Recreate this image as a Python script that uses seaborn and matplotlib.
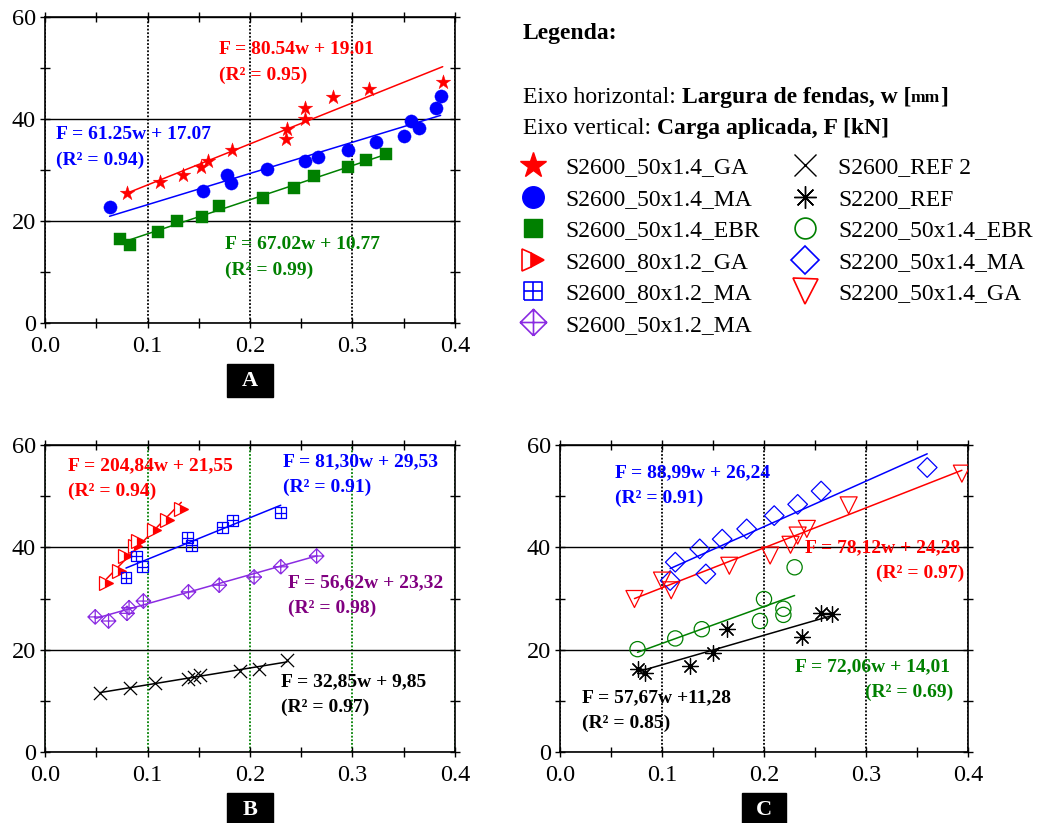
import numpy as np
import pandas as pd
import matplotlib
matplotlib.use("Agg")
import matplotlib.pyplot as plt
import seaborn as sns
from matplotlib.path import Path
from matplotlib.markers import MarkerStyle
from matplotlib.lines import Line2D
import matplotlib.patches as mpatches
import matplotlib.transforms as mtransforms
from matplotlib.ticker import MultipleLocator, FormatStrFormatter

# ------------------------------------------------------------------ data
# Panel A
A_GA_w = [0.080, 0.112, 0.135, 0.152, 0.159, 0.182, 0.235, 0.236, 0.254, 0.254, 0.281, 0.316, 0.388]
A_GA_F = [25.5, 27.6, 29.1, 30.5, 31.8, 33.9, 36.0, 38.0, 40.0, 42.1, 44.3, 45.9, 47.3]
A_MA_w = [0.063, 0.154, 0.178, 0.181, 0.217, 0.254, 0.266, 0.296, 0.323, 0.350, 0.357, 0.365, 0.381, 0.386]
A_MA_F = [22.8, 25.8, 29.1, 27.5, 30.2, 31.8, 32.6, 33.9, 35.5, 36.7, 39.7, 38.2, 42.2, 44.5]
A_EBR_w = [0.073, 0.083, 0.110, 0.129, 0.153, 0.170, 0.213, 0.243, 0.262, 0.296, 0.313, 0.333]
A_EBR_F = [16.4, 15.3, 17.8, 20.0, 20.8, 23.0, 24.6, 26.4, 28.8, 30.5, 32.0, 33.1]

# Panel B
B_GA80_w = [0.060, 0.072, 0.078, 0.088, 0.091, 0.106, 0.119, 0.133]
B_GA80_F = [33.0, 35.3, 38.4, 40.2, 41.2, 43.3, 45.4, 47.5]
B_MA80_w = [0.079, 0.089, 0.095, 0.139, 0.143, 0.173, 0.183, 0.230]
B_MA80_F = [34.1, 38.3, 36.2, 41.9, 40.4, 43.9, 45.3, 46.8]
B_MA12_w = [0.049, 0.062, 0.080, 0.082, 0.096, 0.140, 0.170, 0.204, 0.230, 0.265]
B_MA12_F = [26.4, 25.6, 27.1, 28.2, 29.5, 31.3, 32.6, 34.2, 36.2, 38.3]
B_REF2_w = [0.054, 0.083, 0.107, 0.140, 0.145, 0.151, 0.190, 0.209, 0.236]
B_REF2_F = [11.5, 12.6, 13.5, 14.3, 14.7, 15.1, 15.9, 16.2, 17.9]

# Panel C
C_MA_w = [0.108, 0.113, 0.137, 0.143, 0.159, 0.183, 0.210, 0.233, 0.256, 0.360]
C_MA_F = [33.5, 37.1, 39.7, 34.8, 41.6, 43.6, 46.2, 48.4, 51.0, 55.6]
C_GA_w = [0.073, 0.100, 0.109, 0.166, 0.206, 0.226, 0.233, 0.242, 0.283, 0.394]
C_GA_F = [29.9, 33.5, 31.6, 36.4, 38.4, 40.5, 42.3, 43.6, 48.2, 54.4]
C_EBR_w = [0.076, 0.113, 0.139, 0.196, 0.200, 0.219, 0.219, 0.230]
C_EBR_F = [20.1, 22.2, 24.0, 25.6, 29.9, 28.0, 26.8, 36.1]
C_REF_w = [0.076, 0.083, 0.127, 0.150, 0.164, 0.237, 0.256, 0.267]
C_REF_F = [16.3, 15.5, 16.9, 19.3, 24.0, 22.4, 27.1, 26.9]

# Fitted equations printed on the chart (slope, intercept, label text)
A_fit_slope = [80.54, 61.25, 67.02]
A_fit_icpt = [19.01, 17.07, 10.77]
A_fit_text = ["F = 80.54w + 19.01", "F = 61.25w + 17.07", "F = 67.02w + 10.77"]
A_r2_text = ["(R² = 0.95)", "(R² = 0.94)", "(R² = 0.99)"]

B_fit_slope = [204.84, 81.30, 56.62, 32.85]
B_fit_icpt = [21.55, 29.53, 23.32, 9.85]
B_fit_text = ["F = 204,84w + 21,55", "F = 81,30w + 29,53", "F = 56,62w + 23,32", "F = 32,85w + 9,85"]
B_r2_text = ["(R² = 0.94)", "(R² = 0.91)", "(R² = 0.98)", "(R² = 0.97)"]

C_fit_slope = [88.99, 78.12, 72.06, 57.67]
C_fit_icpt = [26.24, 24.28, 14.01, 11.28]
C_fit_text = ["F = 88,99w + 26,24", "F = 78,12w + 24,28", "F = 72,06w + 14,01", "F = 57,67w +11,28"]
C_r2_text = ["(R² = 0.91)", "(R² = 0.97)", "(R² = 0.69)", "(R² = 0.85)"]

legend_labels = ["S2600_50x1.4_GA", "S2600_50x1.4_MA", "S2600_50x1.4_EBR",
                 "S2600_80x1.2_GA", "S2600_80x1.2_MA", "S2600_50x1.2_MA",
                 "S2600_REF 2", "S2200_REF", "S2200_50x1.4_EBR",
                 "S2200_50x1.4_MA", "S2200_50x1.4_GA"]
x_ticks = [0.0, 0.1, 0.2, 0.3, 0.4]
y_ticks = [0, 20, 40, 60]
panel_letters = ["A", "B", "C"]

# ------------------------------------------------------------------ style
sns.set_theme(style="white", rc={
    "axes.edgecolor": "black", "xtick.color": "black", "ytick.color": "black",
    "text.color": "black", "axes.labelcolor": "black", "axes.linewidth": 1.2,
})
plt.rcParams['font.family'] = ['Liberation Serif', 'DejaVu Serif']

RED, BLUE, GREEN = "#ff0000", "#0000ff", "#008000"
VIOLET, PURPLE = "#8a2be2", "#800080"

MV, LT = Path.MOVETO, Path.LINETO
SQ_PLUS = Path([(-1, -1), (1, -1), (1, 1), (-1, 1), (-1, -1), (-1, 0), (1, 0), (0, -1), (0, 1)],
               [MV, LT, LT, LT, LT, MV, LT, MV, LT])
DIA_PLUS = Path([(0, -1), (1, 0), (0, 1), (-1, 0), (0, -1), (-1, 0), (1, 0), (0, -1), (0, 1)],
                [MV, LT, LT, LT, LT, MV, LT, MV, LT])
ASTER = (8, 2, 0)
TRI_HALF = MarkerStyle('>', fillstyle='right')

fig = plt.figure(figsize=(10.41, 8.23), dpi=100)
W, H = 1041, 823


def add_ax(l, t, r, b):
    return fig.add_axes([l / W, 1 - b / H, (r - l) / W, (b - t) / H])


axA = add_ax(45, 17, 455, 323)
axB = add_ax(45, 445, 455, 752)
axC = add_ax(560, 445, 968, 752)


def style_axes(ax, vgrid_color, letter):
    ax.set_xlim(0, 0.4)
    ax.set_ylim(0, 60)
    ax.set_xticks(x_ticks)
    ax.set_yticks(y_ticks)
    ax.xaxis.set_minor_locator(MultipleLocator(0.05))
    ax.yaxis.set_minor_locator(MultipleLocator(10))
    ax.xaxis.set_major_formatter(FormatStrFormatter('%.1f'))
    ax.tick_params(which='both', direction='inout', length=7, width=1.0,
                   bottom=True, left=True, top=True, right=True,
                   labelsize=17.5, colors='black')
    ax.tick_params(axis='x', pad=6)
    ax.tick_params(axis='y', pad=3)
    ax.grid(False)
    ax.grid(True, axis='x', which='major', linestyle=(0, (1, 1)), color=vgrid_color, lw=1.3)
    ax.grid(True, axis='y', which='major', linestyle='-', color='black', lw=1.0)
    ax.set_axisbelow(True)
    ax.set_xlabel("")
    ax.set_ylabel("")
    for s in ax.spines.values():
        s.set_color('black')
        s.set_linewidth(1.2)
    tr = mtransforms.blended_transform_factory(ax.transData, ax.transAxes)
    ax.add_patch(mpatches.Rectangle((0.2 - 0.022, -0.242), 0.044, 0.108, transform=tr,
                                    facecolor='black', edgecolor='black', clip_on=False))
    ax.text(0.2, -0.188, letter, transform=tr, ha='center', va='center', color='white',
            fontsize=16, fontweight='bold')


def scatter(ax, w, f, marker, size, color, mode='filled', lw=0.9):
    if mode == 'filled':
        sns.scatterplot(x=w, y=f, ax=ax, marker=marker, s=size, color=color,
                        edgecolor=color, linewidth=0.3, zorder=3)
    elif mode == 'open':
        sns.scatterplot(x=w, y=f, ax=ax, marker=marker, s=size, color=color,
                        facecolors='none', edgecolor=color, linewidth=lw, zorder=3)
    else:  # line-art markers (x, asterisk)
        sns.scatterplot(x=w, y=f, ax=ax, marker=marker, s=size, color=color,
                        linewidth=lw, zorder=3)


def fit_line(ax, w, slope, icpt, color):
    xs = np.array([min(w), max(w)])
    sns.lineplot(x=xs, y=slope * xs + icpt, ax=ax, color=color, lw=1.1, zorder=2)


def label(ax, x, y, t1, t2, color, ha='left', x2=None):
    ax.text(x, y, t1, color=color, fontsize=14, fontweight='bold', ha='left', va='center', zorder=4)
    ax.text(x if x2 is None else x2, y - 5.0, t2, color=color, fontsize=14, fontweight='bold',
            ha=ha, va='center', zorder=4)


# ------------------------------------------------------------------ panel A
style_axes(axA, 'black', panel_letters[0])
fit_line(axA, A_GA_w, A_fit_slope[0], A_fit_icpt[0], RED)
fit_line(axA, A_MA_w, A_fit_slope[1], A_fit_icpt[1], BLUE)
fit_line(axA, A_EBR_w, A_fit_slope[2], A_fit_icpt[2], GREEN)
scatter(axA, A_GA_w, A_GA_F, '*', 120, RED)
scatter(axA, A_MA_w, A_MA_F, 'o', 90, BLUE)
scatter(axA, A_EBR_w, A_EBR_F, 's', 70, GREEN)
label(axA, 0.170, 53.6, A_fit_text[0], A_r2_text[0], RED)
label(axA, 0.011, 36.9, A_fit_text[1], A_r2_text[1], BLUE)
label(axA, 0.176, 15.4, A_fit_text[2], A_r2_text[2], GREEN)

# ------------------------------------------------------------------ panel B
style_axes(axB, GREEN, panel_letters[1])
fit_line(axB, B_GA80_w, B_fit_slope[0], B_fit_icpt[0], RED)
fit_line(axB, B_MA80_w, B_fit_slope[1], B_fit_icpt[1], BLUE)
fit_line(axB, B_MA12_w, B_fit_slope[2], B_fit_icpt[2], VIOLET)
fit_line(axB, B_REF2_w, B_fit_slope[3], B_fit_icpt[3], 'black')
sns.lineplot(x=B_GA80_w, y=B_GA80_F, ax=axB, estimator=None, sort=False, marker=TRI_HALF,
             linestyle='', color=RED, markersize=10, markeredgecolor=RED, markerfacecolor=RED,
             markerfacecoloralt='white', markeredgewidth=0.9, zorder=3)
scatter(axB, B_MA80_w, B_MA80_F, SQ_PLUS, 60, BLUE, mode='open')
scatter(axB, B_MA12_w, B_MA12_F, DIA_PLUS, 110, VIOLET, mode='open')
scatter(axB, B_REF2_w, B_REF2_F, 'x', 90, 'black', mode='line')
label(axB, 0.022, 55.9, B_fit_text[0], B_r2_text[0], RED)
label(axB, 0.232, 56.7, B_fit_text[1], B_r2_text[1], BLUE)
label(axB, 0.237, 33.0, B_fit_text[2], B_r2_text[2], PURPLE)
label(axB, 0.230, 13.7, B_fit_text[3], B_r2_text[3], 'black')

# ------------------------------------------------------------------ panel C
style_axes(axC, 'black', panel_letters[2])
fit_line(axC, C_MA_w, C_fit_slope[0], C_fit_icpt[0], BLUE)
fit_line(axC, C_GA_w, C_fit_slope[1], C_fit_icpt[1], RED)
fit_line(axC, C_EBR_w, C_fit_slope[2], C_fit_icpt[2], GREEN)
fit_line(axC, C_REF_w, C_fit_slope[3], C_fit_icpt[3], 'black')
scatter(axC, C_MA_w, C_MA_F, 'D', 100, BLUE, mode='open')
scatter(axC, C_GA_w, C_GA_F, 'v', 150, RED, mode='open')
scatter(axC, C_EBR_w, C_EBR_F, 'o', 120, GREEN, mode='open')
scatter(axC, C_REF_w, C_REF_F, ASTER, 130, 'black', mode='line')
label(axC, 0.054, 54.5, C_fit_text[0], C_r2_text[0], BLUE)
label(axC, 0.240, 39.9, C_fit_text[1], C_r2_text[1], RED, ha='right', x2=0.396)
label(axC, 0.230, 16.6, C_fit_text[2], C_r2_text[2], GREEN, ha='right', x2=0.386)
label(axC, 0.022, 10.6, C_fit_text[3], C_r2_text[3], 'black')

# ------------------------------------------------------------------ legend area
FS = 17
fig.text(523 / W, 1 - 34 / H, "Legenda:", fontsize=FS, fontweight='bold', va='center', ha='left')

t1 = fig.text(523 / W, 1 - 103 / H, "Eixo horizontal: ", fontsize=FS, va='baseline', ha='left')
t2 = axA.annotate("Largura de fendas, w [", xy=(1, 0), xycoords=t1, fontsize=FS, fontweight='bold',
                  va='bottom', ha='left', annotation_clip=False)
t3 = axA.annotate("mm", xy=(1, 0.08), xycoords=t2, fontsize=12.5, fontweight='bold',
                  va='bottom', ha='left', annotation_clip=False)
t4 = axA.annotate("]", xy=(1, -0.08), xycoords=t3, fontsize=FS, fontweight='bold',
                  va='bottom', ha='left', annotation_clip=False)

u1 = fig.text(523 / W, 1 - 134 / H, "Eixo vertical: ", fontsize=FS, va='baseline', ha='left')
u2 = axA.annotate("Carga aplicada, F [kN]", xy=(1, 0), xycoords=u1, fontsize=FS, fontweight='bold',
                  va='bottom', ha='left', annotation_clip=False)

handles = [
    Line2D([], [], marker='*', ls='none', ms=19, color=RED, mec=RED),
    Line2D([], [], marker='o', ls='none', ms=15.5, color=BLUE, mec=BLUE),
    Line2D([], [], marker='s', ls='none', ms=13.5, color=GREEN, mec=GREEN),
    Line2D([], [], marker=TRI_HALF, ls='none', ms=16, color=RED, mec=RED, mfc=RED,
           mfcalt='white', mew=1.2),
    Line2D([], [], marker=SQ_PLUS, ls='none', ms=13.5, color=BLUE, mec=BLUE, mfc='none', mew=1.2),
    Line2D([], [], marker=DIA_PLUS, ls='none', ms=19, color=VIOLET, mec=VIOLET, mfc='none', mew=1.2),
    Line2D([], [], marker='x', ls='none', ms=16, color='black', mew=1.0),
    Line2D([], [], marker=ASTER, ls='none', ms=16, color='black', mew=1.0),
    Line2D([], [], marker='o', ls='none', ms=15, color=GREEN, mec=GREEN, mfc='none', mew=1.2),
    Line2D([], [], marker='D', ls='none', ms=14, color=BLUE, mec=BLUE, mfc='none', mew=1.2),
    Line2D([], [], marker='v', ls='none', ms=18, color=RED, mec=RED, mfc='none', mew=1.2),
]
fig.legend(handles=handles, labels=legend_labels, ncol=2, frameon=False, fontsize=FS,
           loc='upper left', bbox_to_anchor=(521 / W, 1 - 157 / H), bbox_transform=fig.transFigure,
           borderpad=0, borderaxespad=0, handlelength=1.0, handletextpad=0.9,
           columnspacing=1.4, labelspacing=0.42)

fig.savefig("out.png", dpi=100)
